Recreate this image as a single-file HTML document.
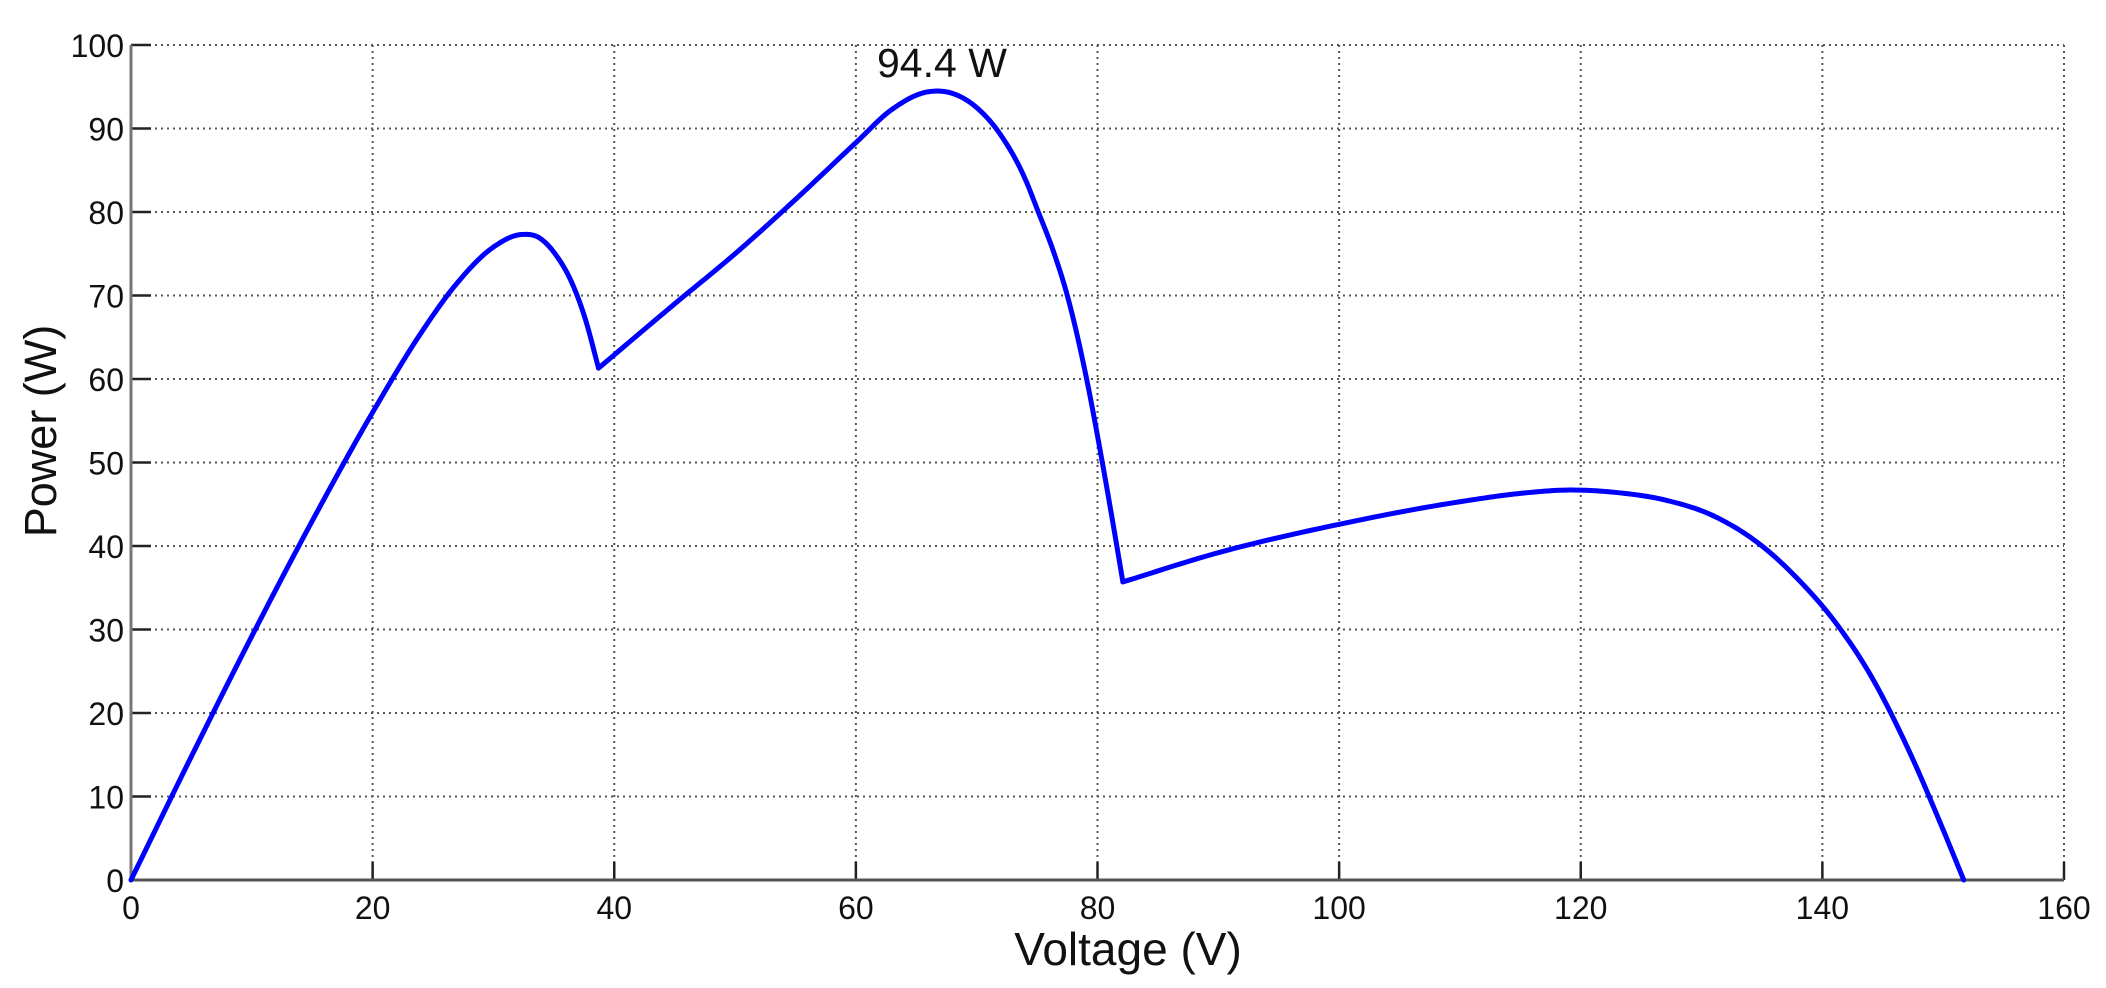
<!DOCTYPE html>
<html><head><meta charset="utf-8"><style>
html,body{margin:0;padding:0;background:#fff;}
svg{display:block;font-family:"Liberation Sans",sans-serif;}
</style></head><body>
<svg id="chart" width="2106" height="988" viewBox="0 0 2106 988" xmlns="http://www.w3.org/2000/svg">
<g id="grid"></g>
<g id="axes"></g>
<g id="curve"></g>
<text x="877" y="77" font-size="41" fill="#111">94.4 W</text>
<text x="1128" y="965" font-size="46" text-anchor="middle" fill="#111">Voltage (V)</text>
<text transform="translate(56,431) rotate(-90)" font-size="45" text-anchor="middle" fill="#111">Power (W)</text>
</svg>
<script>
const xTicks=[0,20,40,60,80,100,120,140,160];
const yTicks=[0,10,20,30,40,50,60,70,80,90,100];
const seg1V=[0,5,10,15,20,24,27,30,32.3,33.8,35.2,36.5,37.6,38.7];
const seg1P=[0,14.8,29.2,43,56,65.5,71.5,75.8,77.3,76.9,74.8,71.5,67.2,61.3];
const seg2V=[38.7,45,50,55,60,63,66,68,70,72,74,75.1,76.3,77.5,79.1,80.4,81.6,82.1];
const seg2P=[61.3,69,75,81.5,88.3,92.3,94.4,94.2,92.5,89.2,84,80,75.5,70,60,50,40,35.7];
const seg3V=[82.1,90,100,110,115,119,123,127,131,135,138,141,144,147,150,151.7];
const seg3P=[35.7,39.2,42.6,45.3,46.3,46.7,46.4,45.5,43.6,40,36,31,24.5,16,6,0];

const X0=131,X1=2064,Y0=880,Y1=45;
const sx=v=>X0+(v-0)/(160-0)*(X1-X0);
const sy=p=>Y0-(p-0)/(100-0)*(Y0-Y1);
const NS="http://www.w3.org/2000/svg";
function mk(t,a,parent){const e=document.createElementNS(NS,t);for(const k in a)e.setAttribute(k,a[k]);parent.appendChild(e);return e;}
const grid=document.getElementById('grid'),axes=document.getElementById('axes'),curve=document.getElementById('curve');

xTicks.forEach(v=>{
  if(v>0){const l=mk('line',{x1:sx(v),x2:sx(v),y1:Y1,y2:Y0,stroke:'#555','stroke-width':2,'stroke-dasharray':'2 4'},grid);
  
  }
  const tk=mk('line',{x1:sx(v),x2:sx(v),y1:Y0,y2:Y0-18,stroke:'#222','stroke-width':2.5},axes);
  
  
  const t=mk('text',{x:sx(v),y:919,'font-size':32,'text-anchor':'middle',fill:'#111'},axes);
  t.textContent=v;
  
  
});
yTicks.forEach(p=>{
  if(p>0){const l=mk('line',{x1:X0,x2:X1,y1:sy(p),y2:sy(p),stroke:'#555','stroke-width':2,'stroke-dasharray':'2 4'},grid);
  
  }
  const tk=mk('line',{x1:X0,x2:X0+20,y1:sy(p),y2:sy(p),stroke:'#222','stroke-width':2.5},axes);
  
  
  const t=mk('text',{x:124,y:sy(p)+12,'font-size':32,'text-anchor':'end',fill:'#111'},axes);
  t.textContent=p;
  
  
});
const xa=mk('line',{x1:X0,x2:X1,y1:Y0,y2:Y0,stroke:'#555','stroke-width':3},axes);


const ya=mk('line',{x1:X0,x2:X0,y1:Y1,y2:Y0,stroke:'#777','stroke-width':3},axes);



// smooth cubic Hermite with weighted centered-difference tangents
function pathFor(V,P){
  const n=V.length,m=new Array(n);
  for(let i=0;i<n;i++){
    if(i===0)m[i]=(P[1]-P[0])/(V[1]-V[0]);
    else if(i===n-1)m[i]=(P[n-1]-P[n-2])/(V[n-1]-V[n-2]);
    else{
      const h0=V[i]-V[i-1],h1=V[i+1]-V[i],d0=(P[i]-P[i-1])/h0,d1=(P[i+1]-P[i])/h1;
      m[i]=(h1*d0+h0*d1)/(h0+h1);
    }
  }
  let s='M'+sx(V[0]).toFixed(2)+','+sy(P[0]).toFixed(2);
  for(let i=0;i<n-1;i++){
    const h=V[i+1]-V[i],N=20;
    for(let k=1;k<=N;k++){
      const t=k/N,t2=t*t,t3=t2*t;
      const y=(2*t3-3*t2+1)*P[i]+(t3-2*t2+t)*h*m[i]+(-2*t3+3*t2)*P[i+1]+(t3-t2)*h*m[i+1];
      s+=' L'+sx(V[i]+t*h).toFixed(2)+','+sy(y).toFixed(2);
    }
  }
  return s;
}
[[seg1V,seg1P],[seg2V,seg2P],[seg3V,seg3P]].forEach(([V,P])=>{
  const e=mk('path',{d:pathFor(V,P),fill:'none',stroke:'#0000ff','stroke-width':5,'stroke-linejoin':'miter','stroke-linecap':'round'},curve);
  
  
});
</script>
</body></html>
